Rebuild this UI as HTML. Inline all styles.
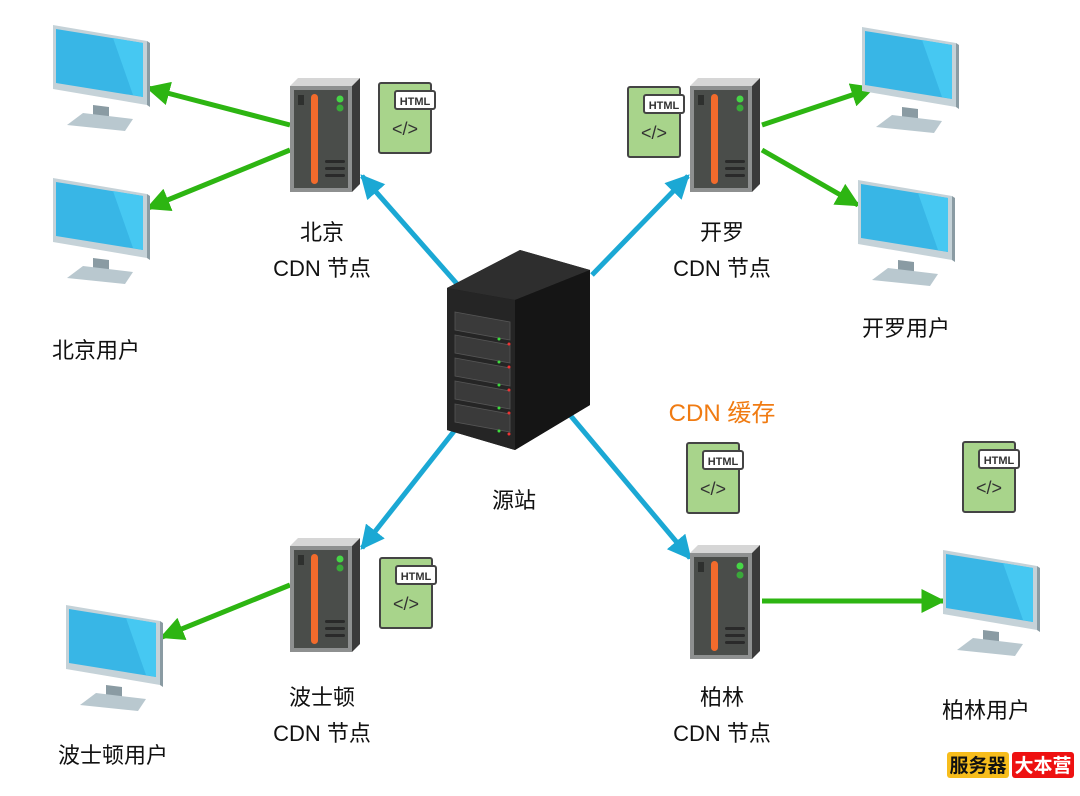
<!DOCTYPE html>
<html><head><meta charset="utf-8"><style>
html,body{margin:0;padding:0;background:#fff;}
svg text{font-family:"Liberation Sans","Noto Sans CJK SC",sans-serif;}
</style></head><body>
<svg width="1080" height="791" viewBox="0 0 1080 791" xmlns="http://www.w3.org/2000/svg">
<defs>
<marker id="bh" markerWidth="8" markerHeight="8" refX="6" refY="4" orient="auto" markerUnits="userSpaceOnUse" viewBox="0 0 8 8"><path d="M0,0 L8,4 L0,8 z" fill="#1ba8d4"/></marker>
<marker id="ah" viewBox="0 0 10 10" refX="9" refY="5" markerWidth="24" markerHeight="24" markerUnits="userSpaceOnUse" orient="auto"><path d="M0,0 L10,5 L0,10 z" fill="#1ba8d4"/></marker>
<marker id="ag" viewBox="0 0 10 10" refX="9" refY="5" markerWidth="24" markerHeight="24" markerUnits="userSpaceOnUse" orient="auto"><path d="M0,0 L10,5 L0,10 z" fill="#2db512"/></marker>
<g id="mon">
<path d="M40,80 L56,82 L56,96 L40,94 z" fill="#8a9ba3"/>
<path d="M14,100 L30,88 L80,94 L72,106 z" fill="#b9c8cf"/>
<path d="M0,0 L94,16 L94,80 L0,64 z" fill="#c5d2d8"/>
<path d="M3,4 L90,18 L90,72 L3,58 z" fill="#38b6e6"/>
<path d="M60,13 L90,18 L90,72 L80,70 z" fill="#46c8f2"/>
<path d="M94,16 L97,18 L97,82 L94,80 z" fill="#8a9ba3"/>
</g>
<g id="srv">
<path d="M0,8 L8,0 L70,0 L62,8 z" fill="#d6d6d6"/>
<path d="M62,8 L70,0 L70,106 L62,114 z" fill="#3a3a3a"/>
<rect x="0" y="8" width="62" height="106" fill="#8e9090"/>
<rect x="4" y="12" width="54" height="98" fill="#4a4d4a"/>
<rect x="8" y="17" width="6" height="10" fill="#2e302e"/>
<rect x="21" y="16" width="7" height="90" rx="3.5" fill="#f26b2c"/>
<circle cx="50" cy="21" r="3.5" fill="#46d646"/>
<circle cx="50" cy="30" r="3.5" fill="#3aa83a"/>
<rect x="35" y="82" width="20" height="3" rx="1.5" fill="#2a2a2a"/>
<rect x="35" y="89" width="20" height="3" rx="1.5" fill="#2a2a2a"/>
<rect x="35" y="96" width="20" height="3" rx="1.5" fill="#2a2a2a"/>
</g>
<g id="doc">
<rect x="0" y="0" width="52" height="70" rx="2" fill="#a8d48b" stroke="#444" stroke-width="2"/>
<rect x="16" y="8" width="40" height="18" rx="2" fill="#fff" stroke="#444" stroke-width="2"/>
<text x="36" y="22" font-size="11" font-weight="bold" fill="#333" text-anchor="middle">HTML</text>
<text x="26" y="52" font-size="18" fill="#333" text-anchor="middle">&lt;/&gt;</text>
</g>
</defs>

<!-- arrows blue -->
<g stroke="#1ba8d4" stroke-width="5" fill="none">
<line x1="458" y1="285" x2="362" y2="176" marker-end="url(#ah)"/>
<line x1="592" y1="275" x2="688" y2="176" marker-end="url(#ah)"/>
<line x1="455" y1="430" x2="362" y2="548" marker-end="url(#ah)"/>
<line x1="570" y1="415" x2="690" y2="558" marker-end="url(#ah)"/>
</g>
<g stroke="#2db512" stroke-width="5" fill="none">
<line x1="290" y1="125" x2="148" y2="88" marker-end="url(#ag)"/>
<line x1="290" y1="150" x2="148" y2="208" marker-end="url(#ag)"/>
<line x1="762" y1="125" x2="873" y2="88" marker-end="url(#ag)"/>
<line x1="762" y1="150" x2="858" y2="205" marker-end="url(#ag)"/>
<line x1="290" y1="585" x2="162" y2="637" marker-end="url(#ag)"/>
<line x1="762" y1="601" x2="943" y2="601" marker-end="url(#ag)"/>
</g>

<use href="#mon" x="53" y="25"/>
<use href="#mon" x="53" y="178"/>
<use href="#mon" x="862" y="27"/>
<use href="#mon" x="858" y="180"/>
<use href="#mon" x="66" y="605"/>
<use href="#mon" x="943" y="550"/>

<use href="#srv" x="290" y="78"/>
<use href="#srv" x="690" y="78"/>
<use href="#srv" x="290" y="538"/>
<use href="#srv" x="690" y="545"/>

<use href="#doc" x="379" y="83"/>
<use href="#doc" x="628" y="87"/>
<use href="#doc" x="380" y="558"/>
<use href="#doc" x="687" y="443"/>
<use href="#doc" x="963" y="442"/>

<!-- central server -->
<g>
<path d="M447,288 L520,250 L590,270 L590,405 L515,450 L447,430 z" fill="#1c1c1c"/>
<path d="M447,288 L520,250 L590,270 L515,300 z" fill="#2e2e2e"/>
<path d="M515,300 L590,270 L590,405 L515,450 z" fill="#151515"/>
<path d="M447,288 L515,300 L515,450 L447,430 z" fill="#252525"/>
<g fill="#3a3a3a" stroke="#555" stroke-width="0.8">
<path d="M455,312 L510,322 L510,340 L455,330 z"/>
<path d="M455,335 L510,345 L510,363 L455,353 z"/>
<path d="M455,358 L510,368 L510,386 L455,376 z"/>
<path d="M455,381 L510,391 L510,409 L455,399 z"/>
<path d="M455,404 L510,414 L510,432 L455,422 z"/>
</g>
<g fill="#3ddc3d"><circle cx="499" cy="339" r="1.5"/><circle cx="499" cy="362" r="1.5"/><circle cx="499" cy="385" r="1.5"/><circle cx="499" cy="408" r="1.5"/><circle cx="499" cy="431" r="1.5"/></g>
<g fill="#e33"><circle cx="509" cy="344" r="1.5"/><circle cx="509" cy="367" r="1.5"/><circle cx="509" cy="390" r="1.5"/><circle cx="509" cy="413" r="1.5"/><circle cx="509" cy="434" r="1.5"/></g>
</g>

<g font-size="22" fill="#111" text-anchor="middle">
<text x="322" y="240">北京</text>
<text x="322" y="276">CDN 节点</text>
<text x="722" y="240">开罗</text>
<text x="722" y="276">CDN 节点</text>
<text x="322" y="705">波士顿</text>
<text x="322" y="741">CDN 节点</text>
<text x="722" y="705">柏林</text>
<text x="722" y="741">CDN 节点</text>
<text x="96" y="358">北京用户</text>
<text x="906" y="336">开罗用户</text>
<text x="514" y="508">源站</text>
<text x="113" y="763">波士顿用户</text>
<text x="986" y="718">柏林用户</text>
<text x="722" y="421" fill="#f07b12" font-size="24">CDN 缓存</text>
</g>

<rect x="947" y="752" width="62" height="26" rx="3" fill="#f7bd1c"/>
<rect x="1012" y="752" width="62" height="26" rx="3" fill="#ee1111"/>
<text x="978" y="772" font-size="19" font-weight="bold" fill="#111" text-anchor="middle">服务器</text>
<text x="1043" y="772" font-size="19" font-weight="bold" fill="#fff" text-anchor="middle">大本营</text>
</svg>
</body></html>
